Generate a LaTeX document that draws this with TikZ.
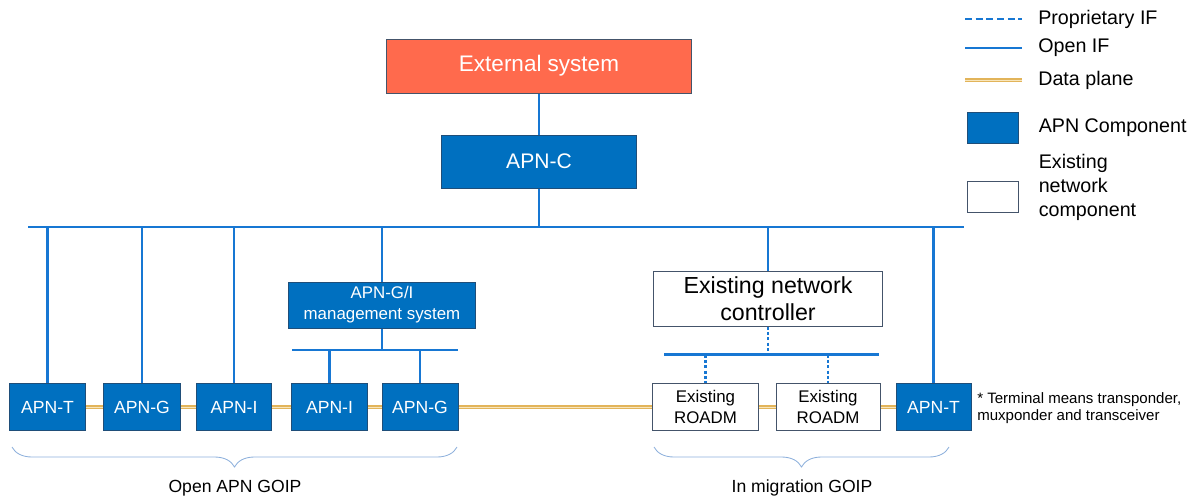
\documentclass[tikz,border=0pt]{standalone}
\usepackage{fontspec}
\setmainfont{Liberation Sans}
\usepackage{tikz}
\usetikzlibrary{positioning,decorations.pathreplacing}
\definecolor{apnblue}{HTML}{0070C0}
\definecolor{apnedge}{HTML}{1F4E79}
\definecolor{ifblue}{HTML}{1777D3}
\definecolor{exedge}{HTML}{44546A}
\definecolor{extred}{HTML}{FF6A4D}
\definecolor{dpgold}{HTML}{E2B45A}
\definecolor{dplight}{HTML}{F8E6BC}
\definecolor{bracecol}{HTML}{8DB0DC}

\begin{document}
\begin{tikzpicture}[x=0.025cm, y=-0.025cm,
  apnbox/.style={draw=apnedge, fill=apnblue, line width=0.7pt, text=white, align=center, inner sep=1pt},
  exbox/.style={draw=exedge, fill=white, line width=0.7pt, align=center, inner sep=1pt},
  openif/.style={draw=ifblue, line width=1.7pt},
  propif/.style={draw=ifblue, line width=1.7pt, dash pattern=on 2.2pt off 1.6pt},
  dataplane/.style={draw=dpgold, double=dplight, double distance=0.7pt, line width=0.8pt},
  goipbrace/.style={draw=bracecol, line width=0.6pt, decorate, decoration={brace, mirror, amplitude=0.5cm}},
  rowfont/.style={font=\fontsize{12.5}{15}\selectfont},
  keyfont/.style={font=\fontsize{14}{17}\selectfont}]
\useasboundingbox (0,0) rectangle (1199,501);

% Controller layer
\node [apnbox, fill=extred, draw=exedge, minimum width=7.6cm, minimum height=1.35cm, font=\fontsize{16}{19}\selectfont]
	(ext) at (539,66) {External system};
\node [apnbox, minimum width=4.85cm, minimum height=1.325cm, font=\fontsize{15}{18}\selectfont]
	(apnc) at (539,161.5) {APN-C};
\coordinate (busL) at (28,227);
\coordinate (busR) at (964,227);
\draw [openif] (ext) -- (apnc);
\draw [openif] (apnc) -- (apnc |- busL);
\draw [openif] (busL) -- (busR);

% Open APN GOIP
\node [apnbox, rowfont, minimum width=1.875cm, minimum height=1.175cm] (apnt1) at (47.5,407) {APN-T};
\node [apnbox, rowfont, minimum width=1.9cm, minimum height=1.175cm] (apng1) at (142,407) {APN-G};
\node [apnbox, rowfont, minimum width=1.875cm, minimum height=1.175cm] (apni1) at (234,407) {APN-I};
\node [apnbox, rowfont, minimum width=1.9cm, minimum height=1.175cm] (apni2) at (329.5,407) {APN-I};
\node [apnbox, rowfont, minimum width=1.9cm, minimum height=1.175cm] (apng2) at (420,407) {APN-G};
\node [apnbox, minimum width=4.65cm, minimum height=1.15cm, font=\fontsize{12}{15}\selectfont]
	(mgmt) at (382,305) {APN-G/I\\management system};
\coordinate (mbusL) at (292,350);
\coordinate (mbusR) at (458,350);

\draw [openif] (apnt1.north |- busL) -- (apnt1);
\draw [openif] (apng1.north |- busL) -- (apng1);
\draw [openif] (apni1.north |- busL) -- (apni1);
\draw [openif] (mgmt.north |- busL) -- (mgmt);
\draw [openif] (mgmt) -- (mgmt.south |- mbusL);
\draw [openif] (mbusL) -- (mbusR);
\draw [openif] (apni2.north |- mbusL) -- (apni2);
\draw [openif] (apng2.north |- mbusL) -- (apng2);

% In migration GOIP
\node [exbox, minimum width=5.7cm, minimum height=1.375cm, font=\fontsize{16.5}{19}\selectfont]
	(ctrl) at (768,298.5) {Existing network\\controller};
\node [exbox, minimum width=2.625cm, minimum height=1.175cm, font=\fontsize{12}{14.5}\selectfont]
	(roadm1) at (705.5,407) {Existing\\ROADM};
\node [exbox, minimum width=2.6cm, minimum height=1.175cm, font=\fontsize{12}{14.5}\selectfont]
	(roadm2) at (828,407) {Existing\\ROADM};
\node [apnbox, rowfont, minimum width=1.875cm, minimum height=1.175cm] (apnt2) at (933.5,407) {APN-T};
\coordinate (cbusL) at (664,354.5);
\coordinate (cbusR) at (879,354.5);

\draw [openif] (ctrl.north |- busL) -- (ctrl);
\draw [openif] (apnt2.north |- busL) -- (apnt2);
\draw [propif] (ctrl) -- (ctrl.south |- cbusL);
\draw [openif] (cbusL) -- (cbusR);
\draw [propif] (roadm1.north |- cbusL) -- (roadm1);
\draw [propif] (roadm2.north |- cbusL) -- (roadm2);

% Data plane
\draw [dataplane] (apnt1) -- (apng1);
\draw [dataplane] (apng1) -- (apni1);
\draw [dataplane] (apni1) -- (apni2);
\draw [dataplane] (apni2) -- (apng2);
\draw [dataplane] (apng2) -- (roadm1);
\draw [dataplane] (roadm1) -- (roadm2);
\draw [dataplane] (roadm2) -- (apnt2);

% Braces
\draw [goipbrace] (12,447) -- (457,447);
\draw [goipbrace] (654,447) -- (949,447);
\node [font=\fontsize{12.5}{15}\selectfont] (openlbl) at (235,488) {Open APN GOIP};
\node [font=\fontsize{12.5}{15}\selectfont] (miglbl) at (802,488) {In migration GOIP};

\node [anchor=west, align=left, font=\fontsize{10.7}{12.5}\selectfont, inner sep=0pt]
	(note) at (977,408) {* Terminal means transponder,\\muxponder and transceiver};

% Legend
\coordinate (propA) at (965,19);
\coordinate (propB) at (1022,19);
\coordinate (openA) at (965,48);
\coordinate (openB) at (1022,48);
\coordinate (dataA) at (965,80);
\coordinate (dataB) at (1022,80);
\draw [propif, dash pattern=on 5pt off 2.6pt] (propA) -- (propB);
\draw [openif] (openA) -- (openB);
\draw [dataplane] (dataA) -- (dataB);
\node [apnbox, minimum width=1.275cm, minimum height=0.775cm] (keyapn) at (992.5,127.5) {};
\node [exbox, minimum width=1.275cm, minimum height=0.775cm] (keyex) at (992.5,196.5) {};
\node [anchor=west, inner sep=0pt, keyfont, right=0.4cm of propB] (propTxt) {Proprietary IF};
\node [anchor=west, inner sep=0pt, keyfont, right=0.4cm of openB] (openTxt) {Open IF};
\node [anchor=west, inner sep=0pt, keyfont, right=0.4cm of dataB] (dataTxt) {Data plane};
\node [anchor=west, inner sep=0pt, keyfont, right=0.5cm of keyapn] (apnTxt) {APN Component};
\node [anchor=west, inner sep=0pt, align=left, font=\fontsize{14}{17}\selectfont, right=0.5cm of keyex, yshift=0.22cm]
	(exTxt) {Existing\\network\\component};
\end{tikzpicture}
\end{document}
